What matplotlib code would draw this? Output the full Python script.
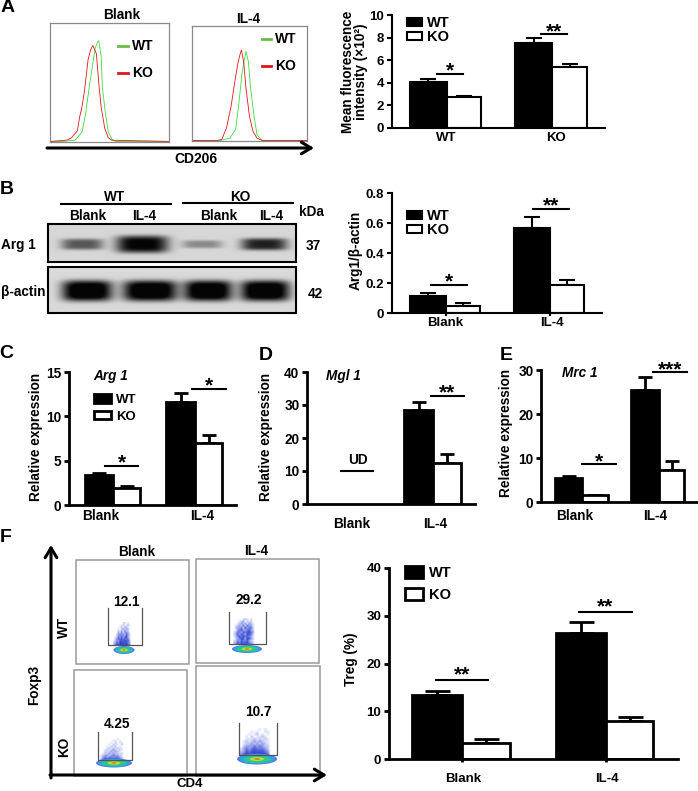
import numpy as np
import matplotlib
matplotlib.use('Agg')
import matplotlib.pyplot as plt
from matplotlib.colors import LinearSegmentedColormap
from matplotlib.patches import Rectangle, Ellipse

plt.rcParams['font.family'] = ['Liberation Sans', 'DejaVu Sans']
plt.rcParams['font.weight'] = 'bold'

W, H = 698, 791

# panel A histograms: x and height in percent of the plot box
blank_red_x = [0, 14, 18, 23, 25, 27, 29, 32, 34, 36, 39, 41, 43, 46, 49, 52, 100]
blank_red_y = [0, 1, 3, 9, 21, 30, 43, 69, 77, 81, 74, 49, 29, 11, 3, 1, 0]
blank_green_x = [0, 11, 21, 27, 30, 33, 36, 38, 40, 41, 43, 44, 46.5, 49, 52, 55, 100]
blank_green_y = [0, 0, 1, 8, 24, 46, 66, 79, 84, 85, 72, 46, 24, 8, 2, 0, 0]
il4_red_x = [0, 22, 26, 30, 34, 37.5, 40, 42, 43, 45, 47, 50, 53, 56.5, 61, 100]
il4_red_y = [0, 0, 1, 11, 30, 53, 68, 76, 79, 68, 45, 21, 8, 2, 0, 0]
il4_green_x = [0, 25, 33, 38, 40.5, 43.5, 46, 47, 49, 51, 54, 56.5, 61, 100]
il4_green_y = [0, 0, 2, 10, 30, 59, 73, 78, 69, 45, 21, 5, 0, 0]

# bar values, WT then KO per group, and the top of each error bar
a_means = [4.05, 2.72, 7.55, 5.4]
a_tops = [4.3, 2.85, 7.95, 5.7]
b_means = [0.115, 0.05, 0.565, 0.185]
b_tops = [0.135, 0.07, 0.64, 0.22]
c_means = [3.4, 1.9, 11.6, 7.0]
c_tops = [3.6, 2.1, 12.6, 7.9]
d_means = [28.6, 12.3]
d_tops = [30.8, 15.2]
e_means = [5.4, 1.6, 25.4, 7.3]
e_tops = [5.9, 1.7, 28.3, 9.4]
f_means = [13.3, 3.4, 26.3, 7.9]
f_tops = [14.3, 4.2, 28.6, 8.8]

# gel bands: darkness of each lane
arg1_dark = [0.5, 0.85, 0.3, 0.72]
actin_dark = [1.0, 1.0, 1.0, 1.0]

flow_labels = ['12.1', '29.2', '4.25', '10.7']

# flow density of the scattered cells, 0-9, top row first
cloud_wt_blank = ['000000120100',
                  '000001201210',
                  '000012032100',
                  '000102313210',
                  '000213142200',
                  '001324234310',
                  '002343425320',
                  '012435346310',
                  '023546454420',
                  '124365565530',
                  '235476656430',
                  '246587768640']
cloud_wt_il4 = ['000001210100',
                '000123021200',
                '001232313210',
                '012324243310',
                '023342534420',
                '013453345320',
                '124435456430',
                '135354365420',
                '124546454310',
                '023465365320',
                '124354453210',
                '235465564320']
cloud_ko_blank = ['000000001000',
                  '000000110100',
                  '000001020110',
                  '000010211020',
                  '000102120100',
                  '000121212110',
                  '001212321210',
                  '002123232100',
                  '012232322120',
                  '123323433210',
                  '134344344320',
                  '246555665430']
cloud_ko_il4 = ['000000010100',
                '000010100110',
                '000101201010',
                '001020112100',
                '001112121210',
                '012123232110',
                '012232323210',
                '023334343220',
                '134345444320',
                '235456555430',
                '346567676540',
                '467788887650']

fig = plt.figure(figsize=(W / 100, H / 100), dpi=100, facecolor='white')


def px_axes(left, top, right, bottom, **kw):
    return fig.add_axes([left / W, 1 - bottom / H, (right - left) / W, (bottom - top) / H], **kw)


over = fig.add_axes([0, 0, 1, 1], zorder=10)
over.set_xlim(0, W)
over.set_ylim(H, 0)
over.axis('off')
over.patch.set_alpha(0)


def label(x, y, s, size=9.8, **kw):
    kw.setdefault('ha', 'center')
    kw.setdefault('va', 'center')
    over.text(x, y, s, fontsize=size, **kw)


def arrow(x0, y0, x1, y1, lw=2.2):
    over.annotate('', xy=(x1, y1), xytext=(x0, y0),
                  arrowprops=dict(arrowstyle='->,head_length=0.7,head_width=0.42', lw=lw,
                                  color='black', shrinkA=0, shrinkB=0))


for letter, x, y in [('A', 8, 8), ('B', 7, 189), ('C', 6, 354), ('D', 266, 356), ('E', 506, 355), ('F', 6, 537)]:
    label(x, y, letter, size=14)


# ---- A: histograms
def histogram(box, rx, ry, gx, gy):
    ax = px_axes(*box)
    ax.plot(gx, gy, color='#3fdc3f', lw=0.6)
    ax.plot(rx, ry, color='#e0141c', lw=0.6)
    ax.set_xlim(0, 100)
    ax.set_ylim(-0.5, 100)
    ax.set_xticks([])
    ax.set_yticks([])
    for s in ax.spines.values():
        s.set_color('#8a8a8a')
        s.set_linewidth(0.9)


histogram((50, 23, 169, 142), blank_red_x, blank_red_y, blank_green_x, blank_green_y)
histogram((192, 26, 307, 141), il4_red_x, il4_red_y, il4_green_x, il4_green_y)
label(122, 15, 'Blank')
label(248, 19, 'IL-4')
for x0, x1, tx, y1, y2 in [(118, 128, 143, 46, 73), (262, 271, 286, 39, 66)]:
    over.plot([x0, x1], [y1, y1], color='#6cbb4a', lw=2)
    over.plot([x0, x1], [y2, y2], color='#e0141c', lw=2)
    label(tx, y1, 'WT', size=10)
    label(tx, y2, 'KO', size=10)
arrow(47, 148, 314, 148)
label(196, 159, 'CD206', size=10)


# ---- bar panels
def bar_panel(rect, ymax, ticks, ticklabels, means, tops, edges, xlabels, sigs, cap=6,
              lw=1.5, size=9.5, minor=None, legend=None, pad=3, star_drop=2):
    left, right, bottom, top = rect
    ax = px_axes(left, top, right, bottom)
    ax.patch.set_alpha(0)
    for i, (m, t) in enumerate(zip(means, tops)):
        x0, x1 = edges[i]
        is_wt = i % 2 == 0
        ax.errorbar((x0 + x1) / 2, m, yerr=[[0], [t - m]], color='black', capsize=cap,
                    elinewidth=lw, capthick=lw, zorder=1)
        ax.bar(x0, m, x1 - x0, align='edge', color='black' if is_wt else 'white',
               edgecolor='black', linewidth=lw, zorder=2,
               label=('WT' if is_wt else 'KO') if i < 2 else None)
    ax.set_xlim(left, right)
    ax.set_ylim(0, ymax)
    ax.spines['top'].set_visible(False)
    ax.spines['right'].set_visible(False)
    ax.spines['left'].set_linewidth(lw)
    ax.spines['bottom'].set_linewidth(lw)
    ax.set_yticks(ticks, ticklabels, fontsize=size)
    ax.tick_params(axis='y', width=lw, length=3.5, pad=2)
    ax.set_xticks([p for p, _ in xlabels], [s for _, s in xlabels], fontsize=size)
    ax.tick_params(axis='x', length=0, pad=pad)
    if minor:
        ax.set_xticks(minor, minor=True)
        ax.tick_params(axis='x', which='minor', width=lw, length=2.5)
    for x0, x1, y, stars in sigs:
        ax.plot([x0, x1], [y, y], color='black', lw=1.5, clip_on=False)
        ax.annotate(stars, ((x0 + x1) / 2, y), xytext=(0, -star_drop), textcoords='offset points',
                    ha='center', va='baseline', fontsize=15, annotation_clip=False)
    if legend:
        x, y, hl, hh, ls, fs = legend
        ax.legend(loc='upper left', bbox_to_anchor=(x, y), bbox_transform=over.transData,
                  frameon=False, borderpad=0, borderaxespad=0, handlelength=hl, handleheight=hh,
                  labelspacing=ls, handletextpad=0.4, fontsize=fs)
    return ax


bar_panel((392, 605, 128, 15), 10, [0, 2, 4, 6, 8, 10], ['0', '2', '4', '6', '8', '10'], a_means, a_tops,
          [(410, 447), (447, 481), (515, 552), (552, 587)], [(446, 'WT'), (556, 'KO')],
          [(437, 463, 4.8, '*'), (541, 567, 8.3, '**')], legend=(407, 16, 1.0, 0.5, 0.03, 10.5))
label(348, 72, 'Mean fluorescence', rotation=90)
label(361, 72, 'intensity (\u00d710\u00b2)', rotation=90)

bar_panel((392, 602, 313, 193), 0.8, [0, 0.2, 0.4, 0.6, 0.8], ['0', '0.2', '0.4', '0.6', '0.8'], b_means, b_tops,
          [(410, 446), (446, 480), (514, 550), (550, 584)], [(445, 'Blank'), (552, 'IL-4')],
          [(431, 467, 0.187, '*'), (533, 569, 0.693, '**')], minor=[446, 550],
          legend=(407, 209, 1.0, 0.5, 0.0, 10.5))
label(356, 250, 'Arg1/\u03b2-actin', rotation=90)

bar_panel((69, 236, 505, 372), 15, [0, 5, 10, 15], ['0', '5', '10', '15'], c_means, c_tops,
          [(85, 113), (113, 140), (166, 195), (195, 222)], [(101, 'Blank'), (202, 'IL-4')],
          [(105, 138, 4.4, '*'), (192, 226, 13.1, '*')], cap=5, lw=2, size=9.8,
          legend=(94, 394, 1.3, 0.65, 0.35, 9.5))
label(36, 437, 'Relative expression', rotation=90)
label(111, 376, 'Arg 1', style='italic')

ax_d = bar_panel((307, 475, 504, 372), 40, [0, 10, 20, 30, 40], ['0', '10', '20', '30', '40'], d_means, d_tops,
                 [(404, 433), (433, 461)], [(352, 'Blank'), (435, 'IL-4')],
                 [(431, 464, 32.7, '**'), (341, 373, 10, '')], cap=5, lw=2, size=9.8, pad=9)
label(266, 437, 'Relative expression', rotation=90)
label(343, 376, 'Mgl 1', style='italic')
ax_d.text(358, 13.3, 'UD', ha='center', va='center', fontsize=9.8)

bar_panel((541, 697, 502, 370), 30, [0, 10, 20, 30], ['0', '10', '20', '30'], e_means, e_tops,
          [(555, 582), (582, 608), (631, 659), (659, 684)], [(575, 'Blank'), (655, 'IL-4')],
          [(582, 616, 8.6, '*'), (653, 687, 29.5, '***')], cap=5, lw=2, size=9.8, pad=5)
label(506, 433, 'Relative expression', rotation=90)
label(580, 373, 'Mrc 1', style='italic')

bar_panel((389, 678, 759, 568), 40, [0, 10, 20, 30, 40], ['0', '10', '20', '30', '40'], f_means, f_tops,
          [(412, 462), (462, 510), (556, 606), (606, 653)], [(463, 'Blank'), (607, 'IL-4')],
          [(436, 488, 16.5, '**'), (579, 632, 30.8, '**')], cap=9, lw=2, minor=[462, 606],
          pad=10, legend=(405, 566, 1.25, 0.8, 0.55, 10.5), star_drop=0)
label(351, 659, 'Treg (%)', rotation=90)


# ---- B: blot
def blot(box, centers, widths, dark, band_h, bg):
    left, top, right, bottom = box
    ax = px_axes(left, top, right, bottom)
    xs = np.arange(left, right, 0.5)
    ys = np.arange(top, bottom, 0.5)
    xx, yy = np.meshgrid(xs, ys)
    img = np.full(xx.shape, bg)
    cy = (top + bottom) / 2 + 1
    for cx, w, d, h in zip(centers, widths, dark, band_h):
        img -= d * np.exp(-((xx - cx) / (w / 2)) ** 4 - ((yy - cy) / (h / 2)) ** 4)
    ax.imshow(np.clip(img, 0.02, 1), cmap='gray', vmin=0, vmax=1, aspect='auto', interpolation='bilinear',
              extent=(left, right, bottom, top))
    ax.set_xticks([])
    ax.set_yticks([])
    for s in ax.spines.values():
        s.set_linewidth(1.5)


blot((48, 224, 296, 262), [82, 142, 202, 264], [42, 52, 40, 46], arg1_dark, [11, 17, 8, 12], 0.84)
blot((48, 267, 296, 313), [87, 150, 208, 265], [50, 54, 48, 49], actin_dark, [20, 20, 20, 20], 0.85)
over.plot([61, 171], [204, 204], color='black', lw=1.5)
over.plot([183, 293], [203, 203], color='black', lw=1.5)
label(115, 197, 'WT')
label(240, 197, 'KO')
for x, s in [(88, 'Blank'), (144, 'IL-4'), (219, 'Blank'), (271, 'IL-4')]:
    label(x, 216, s)
label(311, 212, 'kDa')
label(313, 246, '37')
label(315, 294, '42')
label(1, 245, 'Arg 1', ha='left')
label(1, 292, '\u03b2-actin', ha='left')

# ---- F: flow plots
cloud_cmap = LinearSegmentedColormap.from_list('cloud', ['white', '#b5bdf0', '#5060dc', '#2a3ccc'])
flow_boxes = [(76, 560, 189, 664), (196, 559, 319, 663), (74, 670, 187, 776), (196, 666, 320, 776)]
gates = [(108, 142, 608, 645), (229, 266, 612, 644), (98, 132, 732, 760), (239, 277, 723, 755)]
label_xy = [(126, 602), (249, 600), (117, 724), (258, 712)]
core_xywh = [(124, 650, 21, 8), (247, 649, 30, 8), (114, 763, 36, 9), (257, 759, 40, 11)]
cloud_boxes = [(113, 132, 622, 646), (233, 256, 618, 644), (100, 125, 738, 760), (240, 272, 728, 757)]
clouds = [cloud_wt_blank, cloud_wt_il4, cloud_ko_blank, cloud_ko_il4]
core_rings = [(1.0, '#5a78e0'), (0.88, '#28a8e0'), (0.68, '#2fc88a'), (0.36, '#b8dc30'), (0.14, '#e06a20')]

for i in range(4):
    x0, y0, x1, y1 = flow_boxes[i]
    over.add_patch(Rectangle((x0, y0), x1 - x0, y1 - y0, fill=False, ec='#9a9a9a', lw=1.1))
    cx0, cx1, cy0, cy1 = cloud_boxes[i]
    grid = [[int(c) for c in row] for row in clouds[i]]
    over.imshow(grid, cmap=cloud_cmap, vmin=0, vmax=7, aspect='auto', interpolation='bilinear',
                extent=(cx0, cx1, cy1, cy0))
    cx, cy, cw, ch = core_xywh[i]
    for frac, col in core_rings:
        over.add_patch(Ellipse((cx, cy), cw * frac, ch * frac, color=col, lw=0))
    gx0, gx1, gy0, gy1 = gates[i]
    over.plot([gx0, gx0, gx1, gx1], [gy0, gy1, gy1, gy0], color='#555555', lw=0.9)
    label(*label_xy[i], flow_labels[i])
over.set_xlim(0, W)
over.set_ylim(H, 0)

label(137, 552, 'Blank')
label(256, 551, 'IL-4')
label(64, 627, 'WT', rotation=90)
label(64, 747, 'KO', rotation=90)
label(34, 685, 'Foxp3', rotation=90)
label(190, 784, 'CD4', size=9.5)
arrow(51, 778, 51, 545)
arrow(50, 775, 327, 775)

fig.savefig('out.png', dpi=100, facecolor='white')
